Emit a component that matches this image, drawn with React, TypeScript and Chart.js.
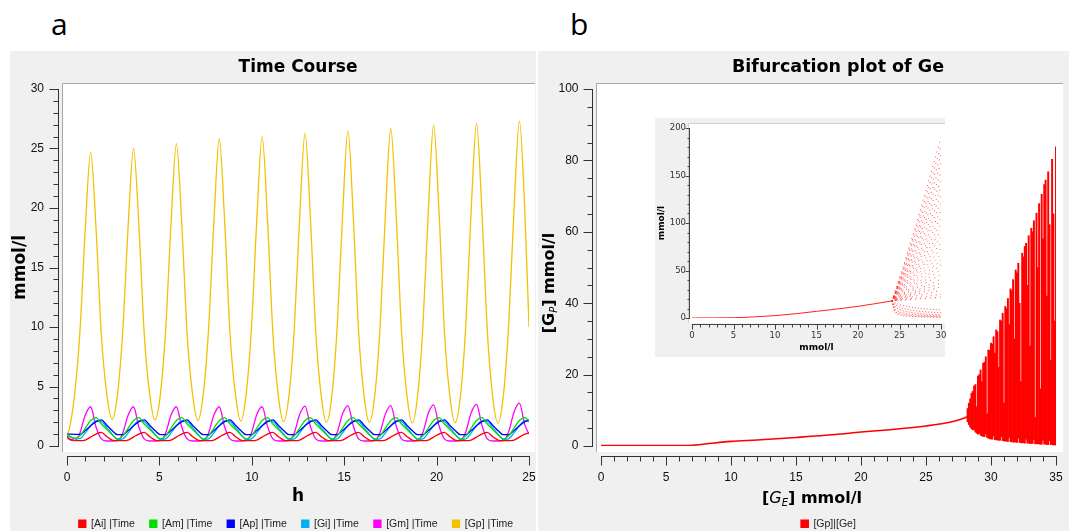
import React, { useEffect, useRef } from 'react';
import { Chart, registerables } from 'chart.js';

Chart.register(...registerables);

// ---------------- Panel a : time course ----------------
const timeH = [0,
  0.12, 0.41, 0.70, 0.99, 1.28, 1.57, 1.86, 2.15,
  2.44, 2.73, 3.02, 3.31, 3.60, 3.89, 4.18, 4.47,
  4.76, 5.05, 5.34, 5.63, 5.92, 6.21, 6.50, 6.79,
  7.08, 7.37, 7.66, 7.95, 8.24, 8.53, 8.82, 9.11,
  9.40, 9.69, 9.98, 10.27, 10.56, 10.85, 11.14, 11.43,
  11.72, 12.01, 12.30, 12.59, 12.88, 13.17, 13.46, 13.75,
  14.04, 14.33, 14.62, 14.91, 15.20, 15.49, 15.78, 16.07,
  16.36, 16.65, 16.94, 17.23, 17.52, 17.81, 18.10, 18.39,
  18.68, 18.97, 19.26, 19.55, 19.84, 20.13, 20.42, 20.71,
  21.00, 21.29, 21.58, 21.87, 22.16, 22.45, 22.74, 23.03,
  23.32, 23.61, 23.90, 24.19, 24.48, 24.77,
  25];

const seriesAi = [0.75,
  0.6, 0.48, 0.45, 0.5, 0.75, 1.0, 1.15, 0.8,
  0.5, 0.45, 0.45, 0.5, 0.75, 1.0, 1.15, 0.8,
  0.5, 0.45, 0.45, 0.5, 0.75, 1.0, 1.15, 0.8,
  0.5, 0.45, 0.45, 0.5, 0.75, 1.0, 1.15, 0.8,
  0.5, 0.45, 0.45, 0.5, 0.75, 1.0, 1.15, 0.8,
  0.5, 0.45, 0.45, 0.5, 0.75, 1.0, 1.15, 0.8,
  0.5, 0.45, 0.45, 0.5, 0.75, 1.0, 1.15, 0.8,
  0.5, 0.45, 0.45, 0.5, 0.75, 1.0, 1.15, 0.8,
  0.5, 0.45, 0.45, 0.5, 0.75, 1.0, 1.15, 0.8,
  0.5, 0.45, 0.45, 0.5, 0.75, 1.0, 1.15, 0.8,
  0.5, 0.45, 0.45, 0.5, 0.75, 1.0,
  1.1];

const seriesAm = [1.0,
  0.85, 0.65, 0.85, 1.5, 2.15, 2.38, 1.85, 1.4,
  0.95, 0.6, 0.85, 1.5, 2.15, 2.38, 1.85, 1.4,
  0.95, 0.6, 0.85, 1.5, 2.15, 2.38, 1.85, 1.4,
  0.95, 0.6, 0.85, 1.5, 2.15, 2.38, 1.85, 1.4,
  0.95, 0.6, 0.85, 1.5, 2.15, 2.38, 1.85, 1.4,
  0.95, 0.6, 0.85, 1.5, 2.15, 2.38, 1.85, 1.4,
  0.95, 0.6, 0.85, 1.5, 2.15, 2.38, 1.85, 1.4,
  0.95, 0.6, 0.85, 1.5, 2.15, 2.38, 1.85, 1.4,
  0.95, 0.6, 0.85, 1.5, 2.15, 2.38, 1.85, 1.4,
  0.95, 0.6, 0.85, 1.5, 2.15, 2.38, 1.85, 1.4,
  0.95, 0.6, 0.85, 1.5, 2.15, 2.38,
  2.1];

const seriesAp = [1.0,
  1.0, 0.98, 0.98, 1.3, 1.7, 2.05, 2.2, 1.75,
  1.3, 0.95, 0.95, 1.3, 1.7, 2.05, 2.2, 1.75,
  1.3, 0.95, 0.95, 1.3, 1.7, 2.05, 2.2, 1.75,
  1.3, 0.95, 0.95, 1.3, 1.7, 2.05, 2.2, 1.75,
  1.3, 0.95, 0.95, 1.3, 1.7, 2.05, 2.2, 1.75,
  1.3, 0.95, 0.95, 1.3, 1.7, 2.05, 2.2, 1.75,
  1.3, 0.95, 0.95, 1.3, 1.7, 2.05, 2.2, 1.75,
  1.3, 0.95, 0.95, 1.3, 1.7, 2.05, 2.2, 1.75,
  1.3, 0.95, 0.95, 1.3, 1.7, 2.05, 2.2, 1.75,
  1.3, 0.95, 0.95, 1.3, 1.7, 2.05, 2.2, 1.75,
  1.3, 0.95, 0.95, 1.3, 1.7, 2.05,
  2.2];

const seriesGi = [0.95,
  0.8, 0.62, 0.62, 1.1, 1.7, 2.1, 2.05, 1.55,
  1.0, 0.55, 0.6, 1.1, 1.7, 2.1, 2.05, 1.55,
  1.0, 0.55, 0.6, 1.1, 1.7, 2.1, 2.05, 1.55,
  1.0, 0.55, 0.6, 1.1, 1.7, 2.1, 2.05, 1.55,
  1.0, 0.55, 0.6, 1.1, 1.7, 2.1, 2.05, 1.55,
  1.0, 0.55, 0.6, 1.1, 1.7, 2.1, 2.05, 1.55,
  1.0, 0.55, 0.6, 1.1, 1.7, 2.1, 2.05, 1.55,
  1.0, 0.55, 0.6, 1.1, 1.7, 2.1, 2.05, 1.55,
  1.0, 0.55, 0.6, 1.1, 1.7, 2.1, 2.05, 1.55,
  1.0, 0.55, 0.6, 1.1, 1.7, 2.1, 2.05, 1.55,
  1.0, 0.55, 0.6, 1.1, 1.7, 2.1,
  2.05];

const seriesGm = [0.85,
  0.55, 0.45, 1.1, 2.6, 3.3, 1.6, 0.6, 0.42,
  0.42, 0.45, 1.1, 2.6, 3.3, 1.6, 0.6, 0.42,
  0.42, 0.45, 1.1, 2.6, 3.3, 1.6, 0.6, 0.42,
  0.42, 0.45, 1.1, 2.6, 3.3, 1.6, 0.6, 0.42,
  0.42, 0.45, 1.1, 2.65, 3.3, 1.65, 0.6, 0.42,
  0.42, 0.45, 1.1, 2.65, 3.35, 1.65, 0.6, 0.42,
  0.42, 0.45, 1.15, 2.7, 3.4, 1.7, 0.6, 0.42,
  0.42, 0.45, 1.15, 2.7, 3.4, 1.7, 0.6, 0.42,
  0.42, 0.45, 1.15, 2.75, 3.45, 1.7, 0.6, 0.42,
  0.42, 0.45, 1.2, 2.8, 3.5, 1.75, 0.6, 0.42,
  0.42, 0.45, 1.2, 2.85, 3.6, 1.8,
  1.0];

const seriesGp = [0.95,
  1.4, 4.3, 9.6, 18.3, 24.7, 18.3, 9.3, 4.4,
  2.25, 4.3, 9.7, 18.5, 25.0, 18.5, 9.4, 4.4,
  2.2, 4.3, 9.8, 18.7, 25.4, 18.7, 9.4, 4.4,
  2.15, 4.3, 9.8, 18.9, 25.8, 18.9, 9.5, 4.4,
  2.1, 4.3, 9.9, 19.0, 26.0, 19.0, 9.5, 4.3,
  2.05, 4.2, 9.9, 19.2, 26.3, 19.2, 9.6, 4.3,
  2.0, 4.2, 10.0, 19.3, 26.5, 19.3, 9.6, 4.3,
  2.0, 4.2, 10.0, 19.5, 26.7, 19.5, 9.7, 4.3,
  1.95, 4.2, 10.1, 19.7, 27.0, 19.7, 9.7, 4.3,
  1.95, 4.2, 10.1, 19.8, 27.1, 19.8, 9.8, 4.2,
  1.9, 4.2, 10.2, 19.9, 27.3, 19.9,
  10.0];

const speciesLabels = ['[Ai] |Time', '[Am] |Time', '[Ap] |Time', '[Gi] |Time', '[Gm] |Time', '[Gp] |Time'];
const speciesColors = ['#ff0000', '#00dd00', '#0000ff', '#00b0f0', '#ff00ff', '#f2c200'];
const speciesValues = [seriesAi, seriesAm, seriesAp, seriesGi, seriesGm, seriesGp];

// ---------------- Panel b : bifurcation ----------------
const branchGe = [0, 5, 7, 8, 10, 12, 15, 18, 20, 22, 25, 27, 28.1];
const branchGp = [0.1, 0.1, 0.2, 0.55, 1.3, 1.7, 2.4, 3.2, 3.9, 4.5, 5.6, 6.8, 8.0];

const oscGe = [
  28.1, 28.2, 28.3, 28.4, 28.5, 28.6, 28.7, 28.8, 28.9, 29.0,
  29.1, 29.2, 29.3, 29.4, 29.5, 29.6, 29.7, 29.8, 29.9, 30.0,
  30.1, 30.2, 30.3, 30.4, 30.5, 30.6, 30.7, 30.8, 30.9, 31.0,
  31.1, 31.2, 31.3, 31.4, 31.5, 31.6, 31.7, 31.8, 31.9, 32.0,
  32.1, 32.2, 32.3, 32.4, 32.5, 32.6, 32.7, 32.8, 32.9, 33.0,
  33.1, 33.2, 33.3, 33.4, 33.5, 33.6, 33.7, 33.8, 33.9, 34.0,
  34.1, 34.2, 34.3, 34.4, 34.5, 34.6, 34.7, 34.8, 34.9, 35.0];
const oscHigh = [
  8.2, 10.5, 12.0, 13.2, 14.8, 15.3, 16.8, 17.2, 11.0, 19.6,
  20.0, 21.3, 18.0, 23.2, 23.5, 25.0, 9.0, 26.9, 26.8, 28.8,
  28.5, 30.6, 26.0, 32.5, 32.0, 22.0, 35.3, 35.0, 37.2, 12.0,
  39.1, 38.5, 41.3, 34.0, 44.0, 43.5, 46.6, 30.0, 49.3, 48.5,
  51.2, 40.0, 18.0, 54.0, 53.0, 55.9, 56.8, 45.0, 58.9, 28.0,
  61.0, 60.0, 63.1, 8.0, 65.2, 50.0, 67.9, 16.0, 70.5, 58.0,
  73.2, 74.5, 42.0, 76.8, 62.0, 24.0, 80.3, 65.0, 35.0, 83.8];
const oscLow = [
  8.0, 6.8, 6.0, 5.3, 4.8, 4.5, 4.6, 3.9, 3.6, 3.3,
  3.6, 3.0, 2.8, 2.7, 2.6, 3.4, 2.4, 2.2, 2.0, 2.0,
  1.9, 2.8, 1.8, 1.7, 1.7, 1.6, 1.6, 2.6, 1.5, 1.4,
  1.4, 1.3, 1.3, 2.4, 1.2, 1.2, 1.1, 1.1, 1.1, 1.0,
  2.2, 1.0, 0.9, 0.9, 0.9, 0.8, 1.9, 0.8, 0.8, 0.7,
  0.7, 0.7, 1.8, 0.6, 0.6, 0.6, 0.6, 0.5, 0.5, 1.6,
  0.5, 0.5, 0.4, 0.4, 1.5, 0.4, 0.4, 0.3, 0.3, 0.3];

// ---------------- Inset ----------------
const insetBranchGe = [0, 5, 7.5, 10, 12.5, 15, 17.5, 20, 22, 24.1];
const insetBranchGp = [0, 0.3, 1.2, 2.5, 4.5, 7, 9.5, 12.3, 15, 18];
const insetFanGe = [24.1, 25.5, 27, 28.5, 30];
const insetFanCurves = [
  [18, 55.8, 98.8, 143.6, 190],
  [18, 53.9, 94.6, 137.0, 181],
  [18, 51.9, 90.4, 130.4, 172],
  [18, 49.9, 86.2, 123.9, 163],
  [18, 47.9, 81.9, 117.3, 154],
  [18, 45.9, 77.7, 110.7, 145],
  [18, 44.2, 73.9, 104.9, 137],
  [18, 42.4, 70.2, 99.0, 129],
  [18, 40.7, 66.4, 93.2, 121],
  [18, 38.9, 62.7, 87.4, 113],
  [18, 37.4, 59.4, 82.2, 106],
  [18, 35.8, 56.1, 77.1, 99],
  [18, 34.3, 52.8, 72.0, 92],
  [18, 32.7, 49.5, 66.9, 85],
  [18, 31.4, 46.7, 62.5, 79],
  [18, 30.1, 43.9, 58.2, 73],
  [18, 28.8, 41.0, 53.8, 67],
  [18, 27.5, 38.2, 49.4, 61],
  [18, 26.4, 35.9, 45.7, 56],
  [18, 25.3, 33.5, 42.1, 51],
  [18, 24.2, 31.2, 38.4, 46],
  [18, 23.1, 28.8, 34.8, 41],
  [18, 22.2, 26.9, 31.9, 37],
  [18, 21.3, 25.1, 29.0, 33],
  [18, 20.4, 23.2, 26.0, 29],
  [18, 19.5, 21.3, 23.1, 25],
  [18, 18.9, 19.9, 20.9, 22],
];
const insetLowGe = [24.1, 24.4, 25, 26, 27.5, 30];
const insetLowCurves = [
  [18, 16.5, 14, 12, 10, 8.5],
  [18, 15, 11.5, 9, 7, 5.5],
  [18, 13, 9, 6.5, 4.5, 3.5],
  [18, 10.5, 6.5, 4.5, 3, 2.2],
  [18, 8.5, 4.8, 3.1, 2, 1.3],
  [18, 7, 3.3, 2, 1.2, 0.8],
];

// ---------------- helpers ----------------
const TICK_FAMILY = "'Liberation Sans', Arial, sans-serif";
const TITLE_FAMILY = "'DejaVu Sans', Verdana, sans-serif";

const isMajor = (v: number, step: number) => Math.abs(v / step - Math.round(v / step)) < 1e-6;
const majorCb = (step: number) => (v: any) => (isMajor(Number(v), step) ? String(Math.round(Number(v))) : '');

type Run = { text: string; font: string; dy?: number };
type Rich = { runs: Run[]; x: number; y: number; base: number; rotate?: boolean };

function drawRich(ctx: CanvasRenderingContext2D, r: Rich) {
  ctx.save();
  ctx.translate(r.x, r.y);
  if (r.rotate) ctx.rotate(-Math.PI / 2);
  ctx.fillStyle = '#000';
  ctx.textBaseline = 'alphabetic';
  ctx.textAlign = 'left';
  let total = 0;
  const widths = r.runs.map((run) => {
    ctx.font = run.font;
    const w = ctx.measureText(run.text).width;
    total += w;
    return w;
  });
  let x = -total / 2;
  r.runs.forEach((run, i) => {
    ctx.font = run.font;
    ctx.fillText(run.text, x, r.base + (run.dy || 0));
    x += widths[i];
  });
  ctx.restore();
}

type QwtCfg = {
  white: [number, number, number, number];
  frame?: string;
  yOff: number; xOff: number;
  yLen: [number, number]; xLen: [number, number];
  yMajor: number; xMajor: number;
  color: string;
  rich?: Rich[];
};

function makeQwt(o: QwtCfg) {
  return {
    id: 'qwt',
    beforeDraw(chart: any) {
      const { ctx, chartArea: ca } = chart;
      const L = Math.round(ca.left - o.white[0]);
      const R = Math.round(ca.right + o.white[1]);
      const T = Math.round(ca.top - o.white[2]);
      const B = Math.round(ca.bottom + o.white[3]);
      ctx.save();
      ctx.fillStyle = '#ffffff';
      ctx.fillRect(L, T, R - L, B - T);
      if (o.frame) {
        ctx.strokeStyle = o.frame;
        ctx.lineWidth = 1;
        ctx.beginPath();
        ctx.moveTo(L + 0.5, B);
        ctx.lineTo(L + 0.5, T + 0.5);
        ctx.lineTo(R, T + 0.5);
        ctx.stroke();
      }
      ctx.restore();
    },
    afterDraw(chart: any) {
      const { ctx, chartArea: ca, scales } = chart;
      const xs = scales.x;
      const ys = scales.y;
      ctx.save();
      ctx.strokeStyle = o.color;
      ctx.lineWidth = 1;
      ctx.beginPath();
      const ax = Math.round(ca.left - o.yOff) + 0.5;
      ctx.moveTo(ax, Math.round(ys.getPixelForValue(ys.max)));
      ctx.lineTo(ax, Math.round(ys.getPixelForValue(ys.min)) + 1);
      for (const t of ys.ticks) {
        const py = Math.round(ys.getPixelForValue(t.value)) + 0.5;
        const len = isMajor(t.value, o.yMajor) ? o.yLen[0] : o.yLen[1];
        ctx.moveTo(ax, py);
        ctx.lineTo(ax - len, py);
      }
      const ay = Math.round(ca.bottom + o.xOff) + 0.5;
      ctx.moveTo(Math.round(xs.getPixelForValue(xs.min)), ay);
      ctx.lineTo(Math.round(xs.getPixelForValue(xs.max)) + 1, ay);
      for (const t of xs.ticks) {
        const px = Math.round(xs.getPixelForValue(t.value)) + 0.5;
        const len = isMajor(t.value, o.xMajor) ? o.xLen[0] : o.xLen[1];
        ctx.moveTo(px, ay);
        ctx.lineTo(px, ay + len);
      }
      ctx.stroke();
      (o.rich || []).forEach((r) => drawRich(ctx, r));
      ctx.restore();
    },
  };
}

const noGrid = { display: false, drawTicks: false, tickLength: 0 };
const noBorder = { display: false };
const tickFont = { family: TICK_FAMILY, size: 12 };
const legendLabels = {
  boxWidth: 7,
  boxHeight: 7,
  padding: 15,
  color: '#222',
  font: { family: TICK_FAMILY, size: 10.5 },
};

function configA(): any {
  return {
    type: 'line',
    data: {
      datasets: speciesLabels.map((label, k) => ({
        label,
        data: timeH.map((t, i) => ({ x: t, y: speciesValues[k][i] })),
        borderColor: speciesColors[k],
        backgroundColor: speciesColors[k],
        borderWidth: 1.3,
        pointRadius: 0,
        cubicInterpolationMode: 'monotone',
        fill: false,
      })),
    },
    options: {
      responsive: false,
      maintainAspectRatio: false,
      animation: false,
      events: [],
      layout: { padding: 0 },
      plugins: {
        legend: { display: true, position: 'bottom', fullSize: true, labels: legendLabels },
        title: {
          display: true,
          fullSize: false,
          text: 'Time Course',
          color: '#000',
          font: { family: TITLE_FAMILY, size: 17, weight: 'bold' },
          padding: { top: 6, bottom: 11.6 },
        },
        tooltip: { enabled: false },
      },
      scales: {
        x: {
          type: 'linear', min: 0, max: 25, offset: false,
          grid: noGrid, border: noBorder,
          ticks: { stepSize: 1, maxTicksLimit: 1000, autoSkip: false, maxRotation: 0, padding: 24, color: '#111', font: tickFont, callback: majorCb(5) },
          title: { display: true, text: 'h', color: '#000', font: { family: TITLE_FAMILY, size: 17, weight: 'bold' }, padding: { top: 0, bottom: -3.4 } },
          afterFit: (s: any) => { s.height = 57.5; },
        },
        y: {
          type: 'linear', min: 0, max: 30,
          grid: noGrid, border: noBorder,
          ticks: { stepSize: 1, maxTicksLimit: 1000, autoSkip: false, padding: 23, color: '#111', font: tickFont, callback: majorCb(5) },
          title: { display: true, text: 'mmol/l', color: '#000', font: { family: TITLE_FAMILY, size: 17, weight: 'bold' }, padding: { top: 0, bottom: 0 } },
          afterFit: (s: any) => { s.width = 57; },
        },
        yR: {
          type: 'linear', position: 'right', display: true,
          grid: noGrid, border: noBorder, ticks: { display: false },
          afterFit: (s: any) => { s.width = 53; },
        },
      },
    },
    plugins: [makeQwt({
      white: [5, 6, 6, 6], frame: '#a8a8a8',
      yOff: 9, xOff: 10, yLen: [9, 5], xLen: [9, 5], yMajor: 5, xMajor: 5, color: '#333',
    })],
  };
}

function configB(): any {
  const bold16 = `bold 16px ${TITLE_FAMILY}`;
  const ital16 = `italic 16px ${TITLE_FAMILY}`;
  const ital10 = `italic 10px ${TITLE_FAMILY}`;
  return {
    type: 'line',
    data: {
      datasets: [
        {
          label: '[Gp]|[Ge]',
          data: branchGe.map((g, i) => ({ x: g, y: branchGp[i] })),
          borderColor: '#ff0000',
          backgroundColor: '#ff0000',
          borderWidth: 1.6,
          pointRadius: 0,
          cubicInterpolationMode: 'monotone',
          fill: false,
        },
        {
          type: 'bar',
          label: 'oscillation',
          data: oscGe.map((g, i) => ({ x: g, y: [oscLow[i], oscHigh[i]] })),
          backgroundColor: '#ff0000',
          borderWidth: 0,
          barPercentage: 1,
          categoryPercentage: 1,
        },
      ],
    },
    options: {
      responsive: false,
      maintainAspectRatio: false,
      animation: false,
      events: [],
      layout: { padding: 0 },
      plugins: {
        legend: {
          display: true, position: 'bottom', fullSize: false,
          labels: { ...legendLabels, filter: (item: any) => item.datasetIndex === 0 },
        },
        title: {
          display: true,
          fullSize: true,
          text: 'Bifurcation plot of Ge',
          color: '#000',
          font: { family: TITLE_FAMILY, size: 17.5, weight: 'bold' },
          padding: { top: 5.5, bottom: 11.5 },
        },
        tooltip: { enabled: false },
      },
      scales: {
        x: {
          type: 'linear', min: 0, max: 35, offset: false,
          grid: { ...noGrid, offset: false }, border: noBorder,
          ticks: { stepSize: 1, maxTicksLimit: 1000, autoSkip: false, maxRotation: 0, padding: 24, color: '#111', font: tickFont, callback: majorCb(5) },
          title: { display: false },
          afterFit: (s: any) => { s.height = 57.5; },
        },
        y: {
          type: 'linear', min: 0, max: 100,
          grid: noGrid, border: noBorder,
          ticks: { stepSize: 5, maxTicksLimit: 1000, autoSkip: false, padding: 22.5, color: '#111', font: tickFont, callback: majorCb(20) },
          title: { display: false },
          afterFit: (s: any) => { s.width = 63; },
        },
        yR: {
          type: 'linear', position: 'right', display: true,
          grid: noGrid, border: noBorder, ticks: { display: false },
          afterFit: (s: any) => { s.width = 82; },
        },
      },
    },
    plugins: [makeQwt({
      white: [5, 7, 6, 6], frame: '#a8a8a8',
      yOff: 9, xOff: 10, yLen: [9, 5], xLen: [9, 5], yMajor: 20, xMajor: 5, color: '#333',
      rich: [
        {
          x: 274, y: 445.8, base: 6,
          runs: [
            { text: '[', font: bold16 },
            { text: 'G', font: ital16 },
            { text: 'E', font: ital10, dy: 3 },
            { text: '] mmol/l', font: bold16 },
          ],
        },
        {
          x: 10, y: 232, base: 6, rotate: true,
          runs: [
            { text: '[G', font: bold16 },
            { text: 'P', font: ital10, dy: 3 },
            { text: '] mmol/l', font: bold16 },
          ],
        },
      ],
    })],
  };
}

function configC(): any {
  const dotColor = 'rgba(255,0,0,0.7)';
  const fan = insetFanCurves.map((vals, k) => ({
    label: 'fan' + k,
    data: insetFanGe.map((g, i) => ({ x: g, y: vals[i] })),
    borderColor: dotColor,
    borderWidth: 1,
    borderDash: [1, 4],
    borderDashOffset: k % 3,
    pointRadius: 0,
    tension: 0.3,
    fill: false,
  }));
  const low = insetLowCurves.map((vals, k) => ({
    label: 'low' + k,
    data: insetLowGe.map((g, i) => ({ x: g, y: vals[i] })),
    borderColor: dotColor,
    borderWidth: 1,
    borderDash: [1, 2],
    pointRadius: 0,
    cubicInterpolationMode: 'monotone',
    fill: false,
  }));
  const smallTick = { family: TITLE_FAMILY, size: 8.5 };
  const smallTitle = { family: TITLE_FAMILY, size: 9, weight: 'bold' };
  return {
    type: 'line',
    data: {
      datasets: [
        {
          label: 'branch',
          data: insetBranchGe.map((g, i) => ({ x: g, y: insetBranchGp[i] })),
          borderColor: '#ff2020',
          borderWidth: 1,
          pointRadius: 0,
          cubicInterpolationMode: 'monotone',
          fill: false,
        },
        ...fan,
        ...low,
      ],
    },
    options: {
      responsive: false,
      maintainAspectRatio: false,
      animation: false,
      events: [],
      layout: { padding: { top: 10, right: 9, left: 0, bottom: 0 } },
      plugins: { legend: { display: false }, title: { display: false }, tooltip: { enabled: false } },
      scales: {
        x: {
          type: 'linear', min: 0, max: 30, offset: false,
          grid: noGrid, border: noBorder,
          ticks: { stepSize: 1, maxTicksLimit: 1000, autoSkip: false, maxRotation: 0, padding: 12.9, color: '#333', font: smallTick, callback: majorCb(5) },
          title: { display: true, text: 'mmol/l', color: '#000', font: smallTitle, padding: { top: 0, bottom: 3.6 } },
          afterFit: (s: any) => { s.height = 39; s.paddingLeft = 0; s.paddingRight = 0; },
        },
        y: {
          type: 'linear', min: 0, max: 200,
          grid: noGrid, border: noBorder,
          ticks: { stepSize: 10, maxTicksLimit: 1000, autoSkip: false, padding: 6, color: '#333', font: smallTick, callback: majorCb(50) },
          title: { display: true, text: 'mmol/l', color: '#000', font: smallTitle, padding: { top: 1.6, bottom: 0 } },
          afterFit: (s: any) => { s.width = 37; s.paddingTop = 0; s.paddingBottom = 0; },
        },
      },
    },
    plugins: [makeQwt({
      white: [4, 4, 5, 5], frame: '#d0d0d0',
      yOff: 3, xOff: 6, yLen: [4, 2], xLen: [5, 3], yMajor: 50, xMajor: 5, color: '#444',
    })],
  };
}

export default function App() {
  const refA = useRef<HTMLCanvasElement>(null);
  const refB = useRef<HTMLCanvasElement>(null);
  const refC = useRef<HTMLCanvasElement>(null);

  useEffect(() => {
    const charts: Chart[] = [];
    if (refA.current) charts.push(new Chart(refA.current, configA()));
    if (refB.current) charts.push(new Chart(refB.current, configB()));
    if (refC.current) charts.push(new Chart(refC.current, configC()));
    return () => charts.forEach((c) => c.destroy());
  }, []);

  const abs = (l: number, t: number, w: number, h: number, extra: React.CSSProperties = {}): React.CSSProperties => ({
    position: 'absolute', left: l, top: t, width: w, height: h, ...extra,
  });
  const panelLabel: React.CSSProperties = {
    position: 'absolute', top: 9, fontFamily: "'Open Sans', sans-serif", fontSize: 30, lineHeight: '30px', color: '#000',
  };

  return (
    <div style={{ position: 'fixed', left: 0, top: 0, width: 1075, height: 531, overflow: 'hidden', background: '#ffffff' }}>
      <div style={abs(10, 51, 526, 480, { background: '#f0f0f0' })} />
      <div style={abs(538, 51, 531, 480, { background: '#f0f0f0' })} />
      <div style={{ ...panelLabel, left: 51 }}>a</div>
      <div style={{ ...panelLabel, left: 570 }}>b</div>
      <canvas ref={refA} width={572} height={488} style={abs(10, 51, 572, 488)} />
      <canvas ref={refB} width={600} height={488} style={abs(538, 51, 600, 488)} />
      <div style={abs(655, 118, 290, 239, { background: '#f0f0f0' })} />
      <canvas ref={refC} width={295} height={239} style={abs(655, 118, 295, 239)} />
    </div>
  );
}
